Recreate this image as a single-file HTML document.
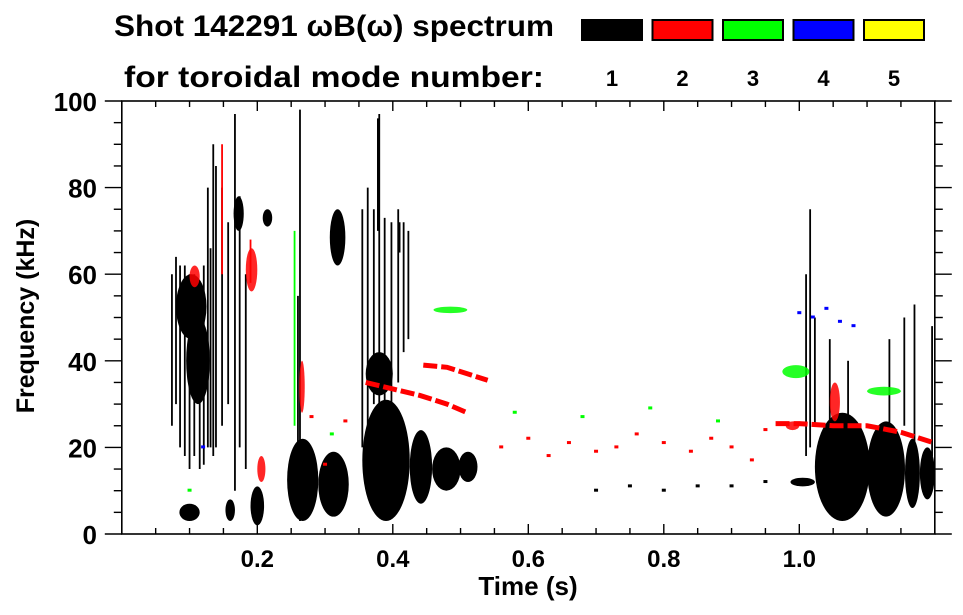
<!DOCTYPE html>
<html><head><meta charset="utf-8">
<style>
html,body{margin:0;padding:0;background:#fff;}
svg{display:block;font-family:"Liberation Sans",Arial,sans-serif;font-weight:bold;}
</style></head>
<body>
<svg id="chart" width="963" height="615" viewBox="0 0 963 615">
  <text x="114" y="36" font-size="30" textLength="440" lengthAdjust="spacingAndGlyphs">Shot 142291 ωB(ω) spectrum</text>
  <text x="124" y="87" font-size="30" textLength="420" lengthAdjust="spacingAndGlyphs">for toroidal mode number:</text>
  <g id="legend"></g>
  <g id="marks"></g>
  <g id="axes"></g>
  <text x="528" y="595" font-size="26" text-anchor="middle">Time (s)</text>
  <text transform="translate(34,316) rotate(-90)" font-size="25" text-anchor="middle">Frequency (kHz)</text>
</svg>
<script>
// ---- data ----
const modeColors = ['#000000','#ff0000','#00ff00','#0000ff','#ffff00'];
const modeLabels = ['1','2','3','4','5'];
const xTicks = [0.2,0.4,0.6,0.8,1.0];
const xTickLabels = ['0.2','0.4','0.6','0.8','1.0'];
const yTicks = [0,20,40,60,80,100];
const yTickLabels = ['0','20','40','60','80','100'];
// blobs: start time, end time, low freq, high freq, mode
const blobT0 = [0.08,0.095,0.085,0.153,0.19,0.244,0.29,0.355,0.362,0.425,0.458,0.497,0.307,0.165,0.208,1.023,1.03,1.1,1.156,1.178,0.987,0.36,
                0.183,0.1,0.262,1.045,0.98,0.46,0.975,1.1,0.2];
const blobT1 = [0.125,0.13,0.115,0.167,0.21,0.29,0.335,0.425,0.42,0.458,0.5,0.525,0.33,0.18,0.222,1.104,1.098,1.156,1.178,1.2,1.023,0.4,
                0.2,0.115,0.27,1.06,1.0,0.51,1.015,1.15,0.212];
const blobF0 = [45,30,3,3,2,3,4,3,8,7,10,12,62,70,71,3,6,4,6,8,11,32,
                56,57,28,26,24,51,36,32,12];
const blobF1 = [60,50,7,8,11,22,19,31,27,24,20,19,75,78,75,28,24,26,22,20,13,42,
                66,62,40,35,26,52.5,39,34,18];
const blobMode = [1,1,1,1,1,1,1,1,1,1,1,1,1,1,1,1,1,1,1,1,1,1,
                  2,2,2,2,2,3,3,3,2];
// vertical streaks: time, low freq, high freq, mode
const streakT = [0.074,0.086,0.1,0.115,0.127,0.135,0.139,0.148,0.157,0.167,0.174,0.183,0.263,0.26,0.355,0.363,0.372,0.38,0.388,0.398,0.408,0.416,0.423,1.01,1.016,1.023,1.045,1.072,1.133,1.155,1.17,1.196,0.255,0.148,0.19,0.378,0.41,0.08,0.093,0.107,0.121,0.131];
const streakF0 = [25,20,15,15,20,18,20,25,30,10,20,15,3,20,20,25,30,20,25,30,35,42,45,18,20,25,22,25,25,25,20,18,25,60,58,70,65,30,18,18,16,20];
const streakF1 = [60,62,60,58,80,90,85,80,72,97,78,60,98,55,75,80,75,97,73,72,75,72,70,60,75,50,45,40,45,50,53,48,70,90,68,96,72,64,62,60,62,66];
const streakMode = [1,1,1,1,1,1,1,1,1,1,1,1,1,1,1,1,1,1,1,1,1,1,1,1,1,1,1,1,1,1,1,1,3,2,2,1,1,1,1,1,1,1];
// mode ridges (thick lines)
const ridgeAT = [0.445,0.48,0.51,0.54], ridgeAF = [39,38.5,37,35.5];
const ridgeBT = [0.36,0.40,0.44,0.48,0.51], ridgeBF = [35,33.5,32,30,28];
const ridgeCT = [0.965,1.0,1.05,1.1,1.15,1.2], ridgeCF = [25.5,25.5,25,25,23.5,21];
// scattered dots: time, freq, mode
const dotT = [0.56,0.6,0.63,0.66,0.7,0.73,0.76,0.8,0.84,0.87,0.9,0.93,0.95,0.58,0.68,0.78,0.88,1.0,1.02,1.04,1.06,1.08,0.7,0.75,0.8,0.85,0.9,0.95,0.12,0.1,0.3,0.31,0.28,0.33];
const dotF = [20,22,18,21,19,20,23,21,19,22,20,17,24,28,27,29,26,51,50,52,49,48,10,11,10,11,11,12,20,10,16,23,27,26];
const dotMode = [2,2,2,2,2,2,2,2,2,2,2,2,2,3,3,3,3,4,4,4,4,4,1,1,1,1,1,1,4,3,2,3,2,2];

// ---- scales ----
const X0=121.8, XS=677.5, Y0=534, YS=4.33;
const xs = t => X0 + t*XS;
const ys = f => Y0 - f*YS;
const NS='http://www.w3.org/2000/svg';
function mk(tag, attrs, parent){const e=document.createElementNS(NS,tag);for(const k in attrs)e.setAttribute(k,attrs[k]);parent.appendChild(e);return e;}
const marks=document.getElementById('marks');
const axes=document.getElementById('axes');
const legend=document.getElementById('legend');

// legend
modeLabels.forEach((lab,i)=>{
  const x=582+i*70.5;
  const r=mk('rect',{x:x,y:20,width:60,height:20,fill:modeColors[i],stroke:'#000','stroke-width':2},legend);
  
  
  const t=mk('text',{x:x+30,y:86,'font-size':22,'text-anchor':'middle'},legend);
  t.textContent=lab;
  
  
});

// streaks
streakT.forEach((t,i)=>{
  const l=mk('line',{x1:xs(t),x2:xs(t),y1:ys(streakF0[i]),y2:ys(streakF1[i]),stroke:modeColors[streakMode[i]-1],'stroke-width':1.8},marks);
  
  
});
// blobs
blobT0.forEach((t0,i)=>{
  const cx=(xs(t0)+xs(blobT1[i]))/2, cy=(ys(blobF0[i])+ys(blobF1[i]))/2;
  const rx=(xs(blobT1[i])-xs(t0))/2, ry=(ys(blobF0[i])-ys(blobF1[i]))/2;
  const m=blobMode[i];
  const e=mk('ellipse',{cx:cx,cy:cy,rx:rx,ry:ry,fill:modeColors[m-1],'fill-opacity':m===1?1:0.85},marks);
  
  
});
// ridges
[[ridgeAT,ridgeAF],[ridgeBT,ridgeBF],[ridgeCT,ridgeCF]].forEach(([T,F])=>{
  const p=mk('polyline',{points:T.map((t,j)=>xs(t)+','+ys(F[j])).join(' '),fill:'none',stroke:'#ff0000','stroke-width':5,'stroke-dasharray':'14 4'},marks);
  
  
});
// dots
dotT.forEach((t,i)=>{
  const r=mk('rect',{x:xs(t)-2,y:ys(dotF[i])-2,width:4,height:3,fill:modeColors[dotMode[i]-1]},marks);
  
  
});

// axes frame
const L=xs(0), R=xs(1.2), T=ys(100), B=ys(0);
const fr=mk('rect',{x:L,y:T,width:R-L,height:B-T,fill:'none',stroke:'#000','stroke-width':1.6},axes);


for(let k=1;k<24;k++){
  const t=k*0.05, x=xs(t), major=(k%4===0);
  const len=major?10:6;
  mk('line',{x1:x,x2:x,y1:B,y2:B-len,stroke:'#000','stroke-width':1.4},axes);
  mk('line',{x1:x,x2:x,y1:T,y2:T+len,stroke:'#000','stroke-width':1.4},axes);
}
xTicks.forEach((t,i)=>{
  const tx=mk('text',{x:xs(t),y:567,'font-size':24,'text-anchor':'middle'},axes);
  tx.textContent=xTickLabels[i];
  
  
});
for(let k=0;k<=20;k++){
  const f=k*5, y=ys(f), major=(k%4===0);
  const len=major?17:8;
  mk('line',{x1:L,x2:L-len,y1:y,y2:y,stroke:'#000','stroke-width':1.4},axes);
  mk('line',{x1:R,x2:R+len,y1:y,y2:y,stroke:'#000','stroke-width':1.4},axes);
}
yTicks.forEach((f,i)=>{
  const tx=mk('text',{x:97,y:ys(f)+10,'font-size':26,'text-anchor':'end'},axes);
  tx.textContent=yTickLabels[i];
  
  
});
</script>
</body></html>
